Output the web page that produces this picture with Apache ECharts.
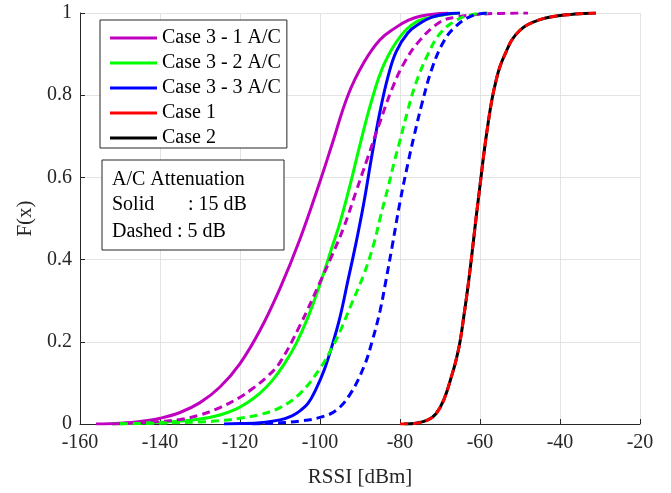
<!DOCTYPE html>
<html>
<head>
<meta charset="utf-8">
<script src="https://cdn.jsdelivr.net/npm/echarts@6/dist/echarts.min.js"></script>
<style>html,body{margin:0;padding:0;background:#fff}#c{width:671px;height:493px}</style>
</head>
<body>
<div id="c"></div>
<script>
// ---- data (RSSI in dBm, CDF F(x)) ----
const xTicks = [-160, -140, -120, -100, -80, -60, -40, -20];
const yTicks = [0, 0.2, 0.4, 0.6, 0.8, 1];

// Solid: 15 dB attenuation
const mag15X = [-156, -150, -145, -140, -135, -130, -125, -120, -115, -110, -105, -100, -97, -93, -89, -85, -81, -78, -75, -70, -68];
const mag15Y = [0, 0.002, 0.006, 0.014, 0.028, 0.052, 0.09, 0.147, 0.228, 0.33, 0.45, 0.59, 0.68, 0.8, 0.88, 0.935, 0.965, 0.982, 0.992, 0.999, 1];
const grn15X = [-152, -145, -140, -135, -130, -125, -121, -118, -115, -112, -109, -106, -103, -100, -97, -95, -92, -90, -87, -84, -80, -76, -72, -68, -65];
const grn15Y = [0, 0.002, 0.004, 0.007, 0.012, 0.022, 0.036, 0.053, 0.075, 0.105, 0.145, 0.195, 0.26, 0.34, 0.43, 0.49, 0.6, 0.68, 0.79, 0.875, 0.942, 0.978, 0.99, 0.997, 1];
const blu15X = [-124, -120, -115, -110, -107, -105, -103, -101, -99, -97, -95, -93, -91, -89, -87, -85, -83, -81, -78, -75, -72, -68, -65];
const blu15Y = [0, 0.001, 0.003, 0.01, 0.02, 0.032, 0.05, 0.085, 0.13, 0.19, 0.26, 0.35, 0.44, 0.54, 0.655, 0.76, 0.845, 0.905, 0.952, 0.975, 0.99, 0.998, 1];

// Dashed: 5 dB attenuation
const mag5X = [-152, -145, -140, -135, -130, -125, -120, -117, -113, -110, -105, -100, -97, -94, -91, -88, -85, -82, -79, -75, -70, -66, -60, -55, -48];
const mag5Y = [0, 0.003, 0.006, 0.011, 0.022, 0.04, 0.065, 0.085, 0.117, 0.15, 0.24, 0.345, 0.41, 0.48, 0.565, 0.65, 0.735, 0.815, 0.878, 0.934, 0.978, 0.99, 0.997, 0.999, 1];
const grn5X = [-150, -140, -130, -125, -120, -115, -110, -105, -100, -97, -95, -92, -89, -86.5, -85, -83, -81.5, -80, -78, -76, -73, -70, -66, -62, -58];
const grn5Y = [0, 0.002, 0.005, 0.008, 0.014, 0.023, 0.04, 0.074, 0.135, 0.185, 0.225, 0.295, 0.365, 0.44, 0.5, 0.575, 0.635, 0.69, 0.765, 0.83, 0.9, 0.95, 0.982, 0.996, 1];
const blu5X = [-117, -110, -105, -100, -96, -92.5, -89, -87, -85, -83.5, -82, -80, -78, -76.5, -74.5, -72, -69, -66, -62, -58];
const blu5Y = [0, 0.003, 0.007, 0.016, 0.033, 0.072, 0.14, 0.2, 0.275, 0.35, 0.43, 0.54, 0.635, 0.7, 0.78, 0.865, 0.932, 0.968, 0.993, 1];

// Case 1 and Case 2
const case2X = [-79, -76, -73, -71, -69, -67, -66, -65, -64, -63, -62, -61, -60, -59, -58, -57, -56, -55, -53.5, -52, -50, -48, -45, -42, -38, -34, -31];
const case2Y = [0, 0.002, 0.01, 0.025, 0.06, 0.12, 0.155, 0.2, 0.265, 0.335, 0.415, 0.5, 0.58, 0.66, 0.73, 0.79, 0.835, 0.87, 0.905, 0.935, 0.958, 0.972, 0.984, 0.991, 0.996, 0.999, 1];
const case1X = [-80, -76, -73, -71, -69, -67, -66, -65, -64, -63, -62, -61, -60, -59, -58, -57, -56, -55, -53.5, -52, -50, -48, -45, -42, -38, -34, -31];
const case1Y = [0, 0.002, 0.01, 0.025, 0.06, 0.12, 0.155, 0.2, 0.265, 0.335, 0.415, 0.5, 0.58, 0.66, 0.73, 0.79, 0.835, 0.87, 0.905, 0.935, 0.958, 0.972, 0.984, 0.991, 0.996, 0.999, 1];

const legendNames = ['Case 3 - 1 A/C', 'Case 3 - 2 A/C', 'Case 3 - 3 A/C', 'Case 1', 'Case 2'];

function zip(xs, ys) { return xs.map((x, i) => [x, ys[i]]); }

const FONT = 'Liberation Serif, Times New Roman, serif';
const TXT = '#262626';

function mk(name, xs, ys, color, dashed, z) {
  return {
    name: name, type: 'line', data: zip(xs, ys), showSymbol: false, symbol: 'none',
    smooth: 0.4, z: z,
    itemStyle: { color: color },
    lineStyle: { color: color, width: 3, type: dashed ? [8, 5] : 'solid' },
    animation: false
  };
}

const boxFont = '20px ' + FONT;

const chart = echarts.init(document.getElementById('c'), null, { renderer: 'canvas' });
chart.setOption({
  animation: false,
  backgroundColor: '#fff',
  grid: { left: 80, right: 31, top: 13, bottom: 66, containLabel: false },
  xAxis: {
    type: 'value', min: xTicks[0], max: xTicks[xTicks.length - 1], interval: 20,
    name: 'RSSI [dBm]', nameLocation: 'middle', nameGap: 43,
    nameTextStyle: { fontFamily: FONT, fontSize: 21, color: TXT },
    axisLine: { show: true, lineStyle: { color: TXT, width: 1 } },
    axisTick: { show: true, inside: true, length: 5, lineStyle: { color: TXT } },
    axisLabel: { fontFamily: FONT, fontSize: 20, color: TXT, margin: 9 },
    splitLine: { show: true, lineStyle: { color: '#e3e3e3', width: 1 } }
  },
  yAxis: {
    type: 'value', min: yTicks[0], max: yTicks[yTicks.length - 1], interval: 0.2,
    name: 'F(x)', nameLocation: 'middle', nameGap: 38,
    nameTextStyle: { fontFamily: FONT, fontSize: 21, color: TXT },
    axisLine: { show: true, lineStyle: { color: TXT, width: 1 } },
    axisTick: { show: true, inside: true, length: 5, lineStyle: { color: TXT } },
    axisLabel: { fontFamily: FONT, fontSize: 20, color: TXT, margin: 8,
      formatter: v => (Math.round(v * 10) / 10).toString() },
    splitLine: { show: true, lineStyle: { color: '#e3e3e3', width: 1 } }
  },
  legend: {
    data: legendNames, orient: 'vertical', left: 100, top: 20,
    icon: 'rect', itemWidth: 47, itemHeight: 3, itemGap: 5,
    padding: [8, 6, 0, 10],
    backgroundColor: '#fff', borderColor: '#262626', borderWidth: 1,
    textStyle: { fontFamily: FONT, fontSize: 20, color: '#000', lineHeight: 20 },
    selectedMode: false
  },
  graphic: [
    { type: 'rect', z: 100, shape: { x: 102, y: 160, width: 182, height: 90 },
      style: { fill: '#fff', stroke: '#262626', lineWidth: 1 } },
    { type: 'text', z: 101, x: 112, y: 180, style: { text: 'A/C Attenuation', font: boxFont, fill: '#000', verticalAlign: 'middle' } },
    { type: 'text', z: 101, x: 112, y: 205, style: { text: 'Solid', font: boxFont, fill: '#000', verticalAlign: 'middle' } },
    { type: 'text', z: 101, x: 188, y: 205, style: { text: ': 15 dB', font: boxFont, fill: '#000', verticalAlign: 'middle' } },
    { type: 'text', z: 101, x: 112, y: 232, style: { text: 'Dashed : 5 dB', font: boxFont, fill: '#000', verticalAlign: 'middle' } }
  ],
  series: [
    mk('Case 3 - 1 A/C', mag15X, mag15Y, '#bf00bf', false, 2),
    mk('Case 3 - 2 A/C', grn15X, grn15Y, '#00ff00', false, 2),
    mk('Case 3 - 3 A/C', blu15X, blu15Y, '#0000ff', false, 2),
    mk('Case 3 - 1 A/C (5 dB)', mag5X, mag5Y, '#bf00bf', true, 3),
    mk('Case 3 - 2 A/C (5 dB)', grn5X, grn5Y, '#00ff00', true, 3),
    mk('Case 3 - 3 A/C (5 dB)', blu5X, blu5Y, '#0000ff', true, 3),
    mk('Case 2', case2X, case2Y, '#000000', false, 4),
    mk('Case 1', case1X, case1Y, '#ff0000', true, 5)
  ]
});
</script>
</body>
</html>
